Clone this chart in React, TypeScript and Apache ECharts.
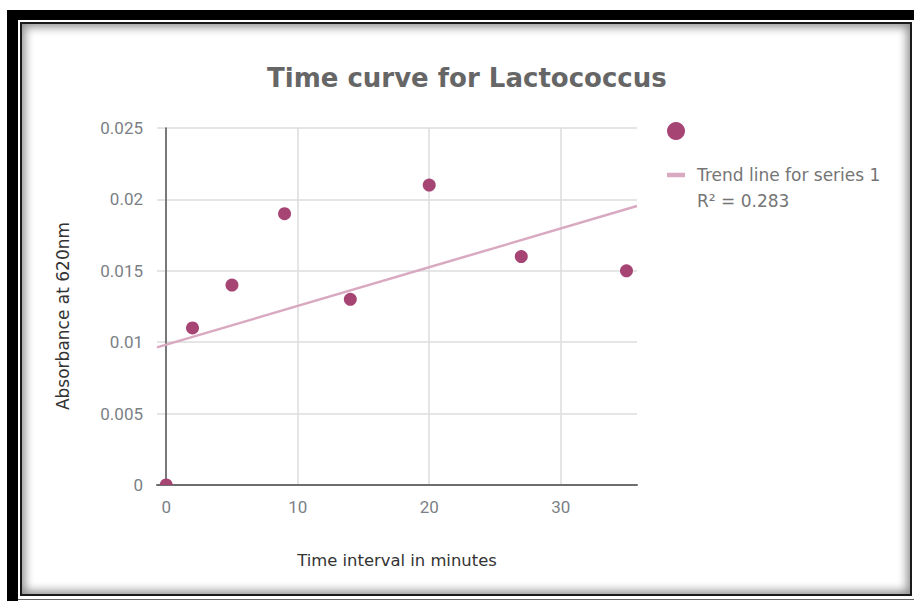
import React, { useEffect, useRef } from "react";
import * as echarts from "echarts";

const timeMinutes = [0, 2, 5, 9, 14, 20, 27, 35];
const absorbance = [0, 0.011, 0.014, 0.019, 0.013, 0.021, 0.016, 0.015];
const titleText = "Time curve for Lactococcus";
const xName = "Time interval in minutes";
const yName = "Absorbance at 620nm";
const trendName = "Trend line for series 1";
const seriesName = "Series 1";
const xRange = [-0.7, 35.8];
const yTicks = [0, 0.005, 0.01, 0.015, 0.02, 0.025];

function regression(xs: number[], ys: number[]) {
  const n = xs.length;
  const mx = xs.reduce((a, b) => a + b, 0) / n;
  const my = ys.reduce((a, b) => a + b, 0) / n;
  let sxy = 0, sxx = 0, syy = 0;
  for (let i = 0; i < n; i++) {
    sxy += (xs[i] - mx) * (ys[i] - my);
    sxx += (xs[i] - mx) ** 2;
    syy += (ys[i] - my) ** 2;
  }
  const slope = sxy / sxx;
  const intercept = my - slope * mx;
  const r2 = (sxy * sxy) / (sxx * syy);
  return { slope, intercept, r2 };
}

export default function App() {
  const ref = useRef<HTMLDivElement>(null);
  useEffect(() => {
    if (!ref.current) return;
    const chart = echarts.init(ref.current, null, { renderer: "svg" });
    const { slope, intercept, r2 } = regression(timeMinutes, absorbance);
    const trend = xRange.map((x) => [x, intercept + slope * x]);
    const comic = "'DejaVu Sans', sans-serif";
    const pointColor = "#a64574";
    chart.setOption({
      animation: false,
      title: {
        text: titleText,
        left: 267,
        top: 65,
        padding: 0,
        textStyle: { fontFamily: comic, fontWeight: "bold", fontSize: 26, color: "#666666" },
      },
      legend: {
        orient: "vertical",
        left: 667,
        top: 122,
        padding: 0,
        itemWidth: 18,
        itemHeight: 18,
        itemGap: 26,
        selectedMode: false,
        data: [
          { name: seriesName, icon: "circle", itemStyle: { color: pointColor } },
          { name: trendName, icon: "path://M0,0h18v4.5h-18z" },
        ],
        formatter: (name: string) => (name === seriesName ? "" : name),
        textStyle: { fontFamily: comic, fontSize: 17, color: "#757575", lineHeight: 18, padding: [0, 0, 0, 7] },
      },
      graphic: [
        {
          type: "text",
          left: 697,
          top: 192,
          style: { text: "R² = " + r2.toFixed(3), font: "17px 'DejaVu Sans', sans-serif", fill: "#757575" },
        },
        {
          type: "text",
          x: 63,
          y: 316,
          rotation: Math.PI / 2,
          style: {
            text: yName,
            font: "17px 'DejaVu Sans', sans-serif",
            fill: "#333333",
            align: "center",
            verticalAlign: "middle",
          },
        },
      ],
      grid: { left: 157, right: 277, top: 128, bottom: 116, containLabel: false },
      xAxis: {
        type: "value",
        min: xRange[0],
        max: xRange[1],
        splitNumber: 4,
        name: xName,
        nameLocation: "middle",
        nameGap: 67,
        nameTextStyle: { fontFamily: comic, fontSize: 16.4, color: "#333333" },
        axisLine: { onZero: false, lineStyle: { color: "#6e6e6e", width: 2 } },
        axisTick: { show: false },
        axisLabel: {
          showMinLabel: false,
          showMaxLabel: false,
          margin: 13,
          fontFamily: "Roboto",
          fontSize: 17,
          color: "#7b7f86",
        },
        splitLine: { show: true, showMinLine: false, showMaxLine: false, lineStyle: { color: "#dcdcdc", width: 1.5 } },
      },
      yAxis: {
        type: "value",
        min: yTicks[0],
        max: yTicks[yTicks.length - 1],
        interval: yTicks[1] - yTicks[0],
        axisLine: { show: true, onZero: true, lineStyle: { color: "#555555", width: 1.5 } },
        axisTick: { show: false },
        axisLabel: {
          margin: 14,
          fontFamily: "Roboto",
          fontSize: 17,
          color: "#7b7f86",
          formatter: (v: number) => String(+v.toFixed(3)),
        },
        splitLine: { show: true, lineStyle: { color: "#dcdcdc", width: 1.5 } },
      },
      series: [
        {
          name: trendName,
          type: "line",
          data: trend,
          symbol: "none",
          clip: true,
          lineStyle: { color: "#d9a9c2", width: 2.5 },
          itemStyle: { color: "#d9a9c2" },
          z: 2,
        },
        {
          name: seriesName,
          type: "custom",
          clip: true,
          data: timeMinutes.map((x, i) => [x, absorbance[i]]),
          itemStyle: { color: pointColor },
          renderItem: (params: any, api: any) => {
            const p = api.coord([api.value(0), api.value(1)]);
            return {
              type: "circle",
              shape: { cx: p[0], cy: p[1], r: 6.5 },
              style: { fill: pointColor },
            };
          },
          z: 3,
        },
      ],
    });
    return () => chart.dispose();
  }, []);

  return (
    <div style={{ position: "fixed", left: 0, top: 0, width: 914, height: 601, background: "#fff", overflow: "hidden" }}>
      <div
        style={{
          position: "absolute",
          left: 7,
          top: 10,
          width: 930,
          height: 620,
          borderLeft: "11px solid #000",
          borderTop: "10px solid #000",
          boxSizing: "border-box",
        }}
      />
      <div
        style={{
          position: "absolute",
          left: 20,
          top: 22,
          width: 892,
          height: 574,
          border: "2px solid #1a1a1a",
          boxShadow: "inset 0 0 10px 3px rgba(0,0,0,0.45)",
          boxSizing: "border-box",
          background: "#fff",
        }}
      />
      <div style={{ position: "absolute", left: 18, top: 599, width: 896, height: 1, background: "#666" }} />
      <div ref={ref} style={{ position: "absolute", left: 0, top: 0, width: 914, height: 601 }} />
    </div>
  );
}
